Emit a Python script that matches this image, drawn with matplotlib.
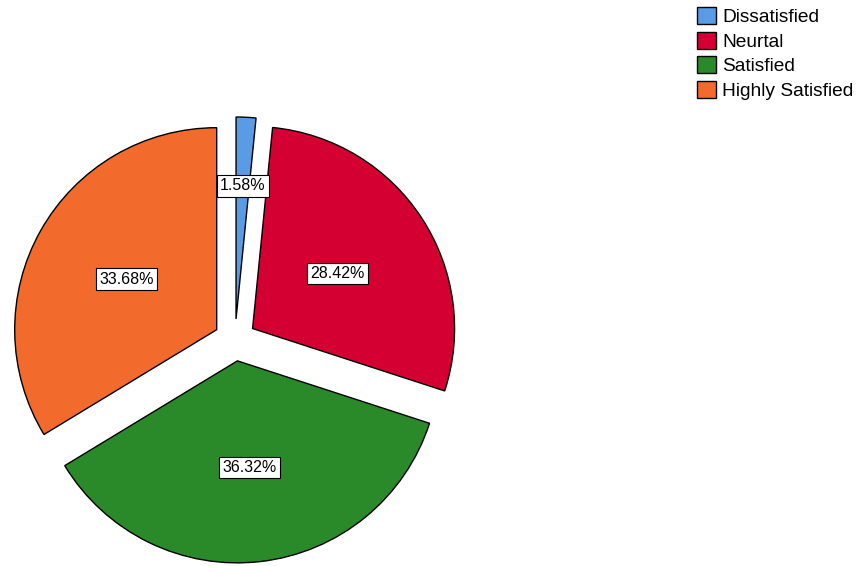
import numpy as np
import matplotlib.pyplot as plt
from matplotlib.patches import Patch

plt.rcParams['font.family'] = ['Liberation Sans', 'DejaVu Sans']

labels = ["Dissatisfied", "Neurtal", "Satisfied", "Highly Satisfied"]
shares = [1.58, 28.42, 36.32, 33.68]
colors = ["#5a9be6", "#d50032", "#2a8a2a", "#f26a2c"]

fig = plt.figure(figsize=(8.62, 5.66), dpi=100)
ax = fig.add_axes([0, 0, 1, 1])

# pie in pixel-like units so layout matches the picture
cx, cy, r = 235, 226, 202
wedges, _ = ax.pie(shares, colors=colors, startangle=90, counterclock=False,
                   explode=[21] * 4, center=(cx, cy), radius=r,
                   wedgeprops={"edgecolor": "black", "linewidth": 1.0})

label_dist = [0.66, 0.50, 0.53, 0.51]  # fraction of radius from slice tip
for w, v, d in zip(wedges, shares, label_dist):
    ang = np.deg2rad((w.theta1 + w.theta2) / 2)
    x0, y0 = w.center
    ax.text(x0 + d * r * np.cos(ang), y0 + d * r * np.sin(ang), f"{v:.2f}%",
            ha="center", va="center", fontsize=11.5,
            bbox={"boxstyle": "square,pad=0.2", "facecolor": "white",
                  "edgecolor": "black", "linewidth": 0.8})

ax.set_xlim(0, 862)
ax.set_ylim(0, 566)
ax.set_aspect("equal")
ax.axis("off")

handles = [Patch(facecolor=c, edgecolor="black", linewidth=1.0) for c in colors]
fig.legend(handles, labels, loc="upper left", bbox_to_anchor=(697 / 862, 1 - 7 / 566),
           frameon=False, fontsize=13.8, handlelength=1.0, handleheight=1.0,
           handletextpad=0.3, labelspacing=0.28, borderaxespad=0, borderpad=0)

fig.savefig("out.png", dpi=100)
